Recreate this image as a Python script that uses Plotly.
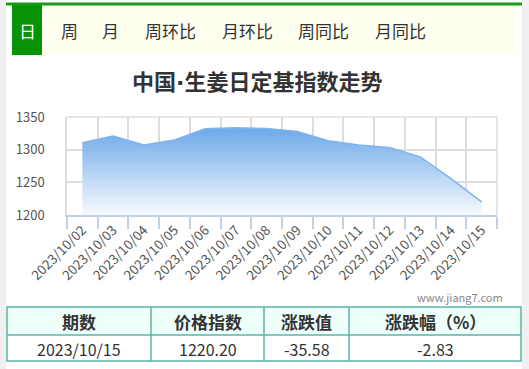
import plotly.graph_objects as go

dates = ["2023/10/02", "2023/10/03", "2023/10/04", "2023/10/05", "2023/10/06",
         "2023/10/07", "2023/10/08", "2023/10/09", "2023/10/10", "2023/10/11",
         "2023/10/12", "2023/10/13", "2023/10/14", "2023/10/15"]
index_values = [1310.5, 1321.0, 1307.0, 1314.7, 1332.0, 1333.5, 1332.5,
                1328.0, 1313.6, 1307.0, 1303.5, 1289.0, 1255.78, 1220.20]
tabs = ["日", "周", "月", "周环比", "月环比", "周同比", "月同比"]
tab_x = [27, 69, 110, 170, 247, 323, 400]
title_left = "中国"
title_right = "生姜日定基指数走势"
table_headers = ["期数", "价格指数", "涨跌值", "涨跌幅（%）"]
y_ticks = [1200, 1250, 1300, 1350]

W, H = 529, 369
L, R, T, B = 67, 497, 117, 215
FONT = "Noto Sans CJK SC"


def px(x):
    return (x - L) / (R - L)


def py(y):
    return (B - y) / (B - T)


fig = go.Figure()
fig.add_trace(go.Scatter(
    x=dates, y=index_values, mode="lines",
    line=dict(color="#7fb4ec", width=1.5),
    fill="tozeroy",
    fillgradient=dict(type="vertical", start=1200, stop=1336,
                      colorscale=[[0, "#f7fafe"], [1, "#6aa7e9"]]),
    hoverinfo="x+y",
))

shapes = []
shapes.append(dict(type="rect", xref="paper", yref="paper", x0=px(6), x1=px(522),
                   y0=py(369), y1=py(0), fillcolor="white", line_width=0, layer="below"))
shapes.append(dict(type="rect", xref="paper", yref="paper", x0=px(12), x1=px(517),
                   y0=py(55), y1=py(5), fillcolor="#fffff0", line_width=0, layer="below"))
shapes.append(dict(type="rect", xref="paper", yref="paper", x0=px(12), x1=px(42),
                   y0=py(55), y1=py(5), fillcolor="#069406", line_width=0, layer="below"))
shapes.append(dict(type="rect", xref="paper", yref="paper", x0=px(6), x1=px(522),
                   y0=py(5.5), y1=py(2.5), fillcolor="#1a9a1a", line_width=0, layer="below"))
shapes.append(dict(type="line", xref="paper", yref="paper", x0=0, x1=1, y0=1, y1=1,
                   line=dict(color="#dcdcdc", width=1.5)))
shapes.append(dict(type="line", xref="paper", yref="paper", x0=1, x1=1, y0=0, y1=1,
                   line=dict(color="#dcdcdc", width=1.5)))

tx = [7, 151, 264, 349, 521]
ty = [307, 335, 361]
shapes.append(dict(type="rect", xref="paper", yref="paper", x0=px(tx[0]), x1=px(tx[-1]),
                   y0=py(ty[1]), y1=py(ty[0]), fillcolor="#effff9", line_width=0))
shapes.append(dict(type="rect", xref="paper", yref="paper", x0=px(tx[0]), x1=px(tx[-1]),
                   y0=py(ty[2]), y1=py(ty[0]), fillcolor="rgba(0,0,0,0)",
                   line=dict(color="#5bb3ab", width=1.5)))
shapes.append(dict(type="line", xref="paper", yref="paper", x0=px(tx[0]), x1=px(tx[-1]),
                   y0=py(ty[1]), y1=py(ty[1]), line=dict(color="#5bb3ab", width=1.5)))
for xv in tx[1:-1]:
    shapes.append(dict(type="line", xref="paper", yref="paper", x0=px(xv), x1=px(xv),
                       y0=py(ty[2]), y1=py(ty[0]), line=dict(color="#5bb3ab", width=1.5)))

ann = []
for i, (t, x) in enumerate(zip(tabs, tab_x)):
    ann.append(dict(text=t, x=px(x), y=py(31), xref="paper", yref="paper", showarrow=False,
                    xanchor="center", yanchor="middle",
                    font=dict(family=FONT, size=17, color="white" if i == 0 else "#333")))
title_html = ("<b>" + title_left + "<span style='font-family:DejaVu Sans'>·</span>"
              + title_right + "</b>")
ann.append(dict(text=title_html, x=px(257), y=py(80), xref="paper", yref="paper",
                showarrow=False, xanchor="center", yanchor="middle",
                font=dict(family=FONT, size=22, color="#333")))
ann.append(dict(text="www.jiang7.com", x=px(505), y=py(297), xref="paper", yref="paper",
                showarrow=False, xanchor="right", yanchor="middle",
                font=dict(family=FONT, size=11, color="#888")))

last = index_values[-1]
prev = index_values[-2]
diff = last - prev
pct = diff / prev * 100
row = [dates[-1], f"{last:.2f}", f"{diff:.2f}", f"{pct:.2f}"]
for j in range(4):
    cx = (tx[j] + tx[j + 1]) / 2
    ann.append(dict(text="<b>" + table_headers[j] + "</b>", x=px(cx), y=py(321.5),
                    xref="paper", yref="paper", showarrow=False, xanchor="center",
                    yanchor="middle", font=dict(family=FONT, size=17, color="#333")))
    ann.append(dict(text=row[j], x=px(cx), y=py(349), xref="paper", yref="paper",
                    showarrow=False, xanchor="center", yanchor="middle",
                    font=dict(family=FONT, size=16, color="#333")))

fig.update_layout(
    width=W, height=H,
    margin=dict(l=L, r=W - R, t=T, b=H - B, pad=0),
    paper_bgcolor="#f0f0f0", plot_bgcolor="white",
    showlegend=False,
    shapes=shapes, annotations=ann,
    font=dict(family=FONT),
    xaxis=dict(type="category", range=[-0.5, len(dates) - 0.5], tickson="boundaries",
               showgrid=True, gridcolor="#dcdcdc", gridwidth=1.5,
               showline=True, linecolor="#c3d1e0", linewidth=2,
               ticks="outside", ticklen=12, tickcolor="#c3d1e0", tickwidth=1.5,
               tickangle=-45, tickfont=dict(family=FONT, size=13.5, color="#555"),
               zeroline=False, fixedrange=True),
    yaxis=dict(range=[1200, 1350], tickvals=y_ticks, showgrid=True, gridcolor="#dcdcdc",
               gridwidth=1.5, showline=True, linecolor="#dcdcdc", linewidth=1.5,
               ticks="", ticklabelstandoff=18, zeroline=False,
               tickfont=dict(family=FONT, size=13, color="#555"), fixedrange=True),
)

fig.write_html("out.html", config={"displayModeBar": False})
